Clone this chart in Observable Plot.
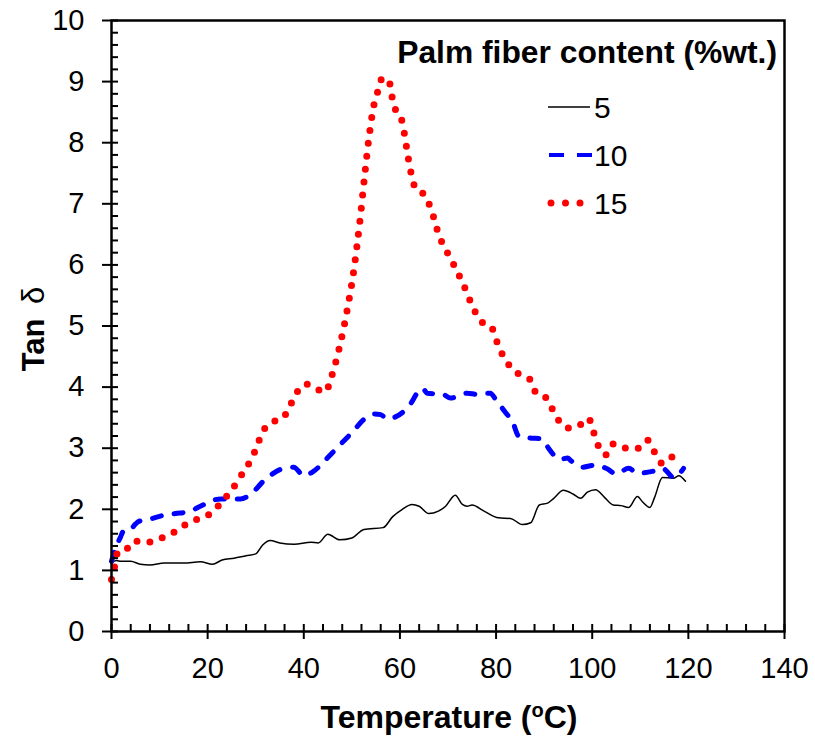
<!DOCTYPE html>
<html>
<head>
<meta charset="utf-8">
<script src="https://cdn.jsdelivr.net/npm/d3@7"></script>
<script src="https://cdn.jsdelivr.net/npm/@observablehq/plot@0.6"></script>
<style>
  html, body { margin: 0; padding: 0; background: #fff; }
</style>
</head>
<body>
<div id="chart"></div>
<script>
// ---- data ----
const seriesNames = ["5", "10", "15"];
const legendTitle = "Palm fiber content (%wt.)";
const xTitle = "Temperature (";
const yTitle = "Tan";
const xTicks = [0, 20, 40, 60, 80, 100, 120, 140];
const yTicks = [0, 1, 2, 3, 4, 5, 6, 7, 8, 9, 10];

const temp5 = [0, 1, 2, 4, 6, 8, 11, 15, 18.5, 21, 23, 25.5, 28, 30, 31.5, 33, 35, 38, 41.5, 43, 45, 47.5, 50, 52.5, 56.5, 58.5, 60.5, 62.5, 64, 66, 68, 69.5, 71.5, 73, 74, 75, 77.5, 80.5, 83, 85.5, 87.2, 89, 90.7, 92, 94, 96, 97.6, 99, 100.7, 102.5, 104.4, 106, 107.6, 109.4, 110.5, 112, 113, 114.6, 117, 118, 119.4];
const tan5  = [1.12, 1.16, 1.15, 1.15, 1.1, 1.09, 1.12, 1.12, 1.14, 1.1, 1.17, 1.2, 1.24, 1.27, 1.42, 1.49, 1.45, 1.43, 1.46, 1.45, 1.59, 1.5, 1.53, 1.67, 1.7, 1.88, 2.0, 2.08, 2.05, 1.93, 1.97, 2.05, 2.23, 2.08, 2.05, 2.07, 1.97, 1.86, 1.85, 1.75, 1.78, 2.07, 2.1, 2.18, 2.31, 2.25, 2.18, 2.28, 2.32, 2.2, 2.07, 2.06, 2.03, 2.21, 2.12, 2.03, 2.2, 2.52, 2.51, 2.55, 2.46];

const temp10 = [0, 0.8, 1.9, 2.5, 3.5, 5, 5.6, 7.5, 10.8, 13.3, 16.4, 18.5, 22.7, 26.8, 28.9, 31.6, 35.8, 37.9, 40, 42, 44.9, 47.6, 49.7, 53.3, 54.5, 56, 57.4, 58.7, 61.6, 64.7, 65.7, 69, 70.5, 74, 76.1, 78.8, 79.9, 82, 83.4, 84.7, 86.7, 89.7, 90.9, 93.4, 94.9, 95.5, 98, 100.3, 103.2, 104.9, 107.6, 109.4, 112.5, 114.6, 117, 119];
const tan10  = [1.15, 1.35, 1.55, 1.64, 1.64, 1.76, 1.8, 1.83, 1.9, 1.93, 1.97, 2.05, 2.17, 2.17, 2.24, 2.46, 2.67, 2.69, 2.55, 2.62, 2.84, 3.06, 3.23, 3.52, 3.56, 3.55, 3.48, 3.5, 3.66, 3.98, 3.9, 3.88, 3.82, 3.9, 3.88, 3.9, 3.8, 3.58, 3.44, 3.2, 3.17, 3.15, 3.0, 2.82, 2.84, 2.8, 2.69, 2.72, 2.66, 2.58, 2.67, 2.59, 2.62, 2.67, 2.52, 2.67];

const temp15 = [0, 0.7, 1.3, 2.9, 4.6, 7.5, 10, 12.7, 15.2, 17.9, 20.4, 22.5, 24.3, 26, 27.5, 29.1, 30.2, 31.2, 32.9, 35.6, 37, 38.3, 40.4, 42.4, 44.5, 45.6, 47.2, 49.0, 50.4, 51.8, 52.7, 53.7, 54.6, 55.4, 56.3, 57.7, 58.2, 58.9, 60.3, 60.9, 61.8, 63.1, 65.2, 66.4, 68.1, 70.7, 73.2, 75.4, 76.8, 79, 80, 81.1, 82.5, 84.6, 87, 88.2, 90.1, 91.5, 92.8, 95, 97.4, 99.2, 100.3, 101.1, 102.8, 104.4, 107.1, 109.6, 111.5, 113, 114.6, 116.9, 119];
const tan15  = [0.85, 1.08, 1.3, 1.33, 1.48, 1.46, 1.52, 1.61, 1.74, 1.84, 1.92, 2.08, 2.25, 2.43, 2.62, 2.82, 3.02, 3.23, 3.41, 3.49, 3.67, 3.88, 4.05, 3.98, 3.92, 4.13, 4.58, 5.25, 5.91, 6.81, 7.49, 8.17, 8.62, 8.84, 9.05, 9.03, 8.81, 8.58, 8.39, 8.16, 7.72, 7.28, 7.13, 6.93, 6.49, 6.08, 5.68, 5.27, 5.08, 4.99, 4.78, 4.57, 4.38, 4.22, 4.13, 3.92, 3.85, 3.67, 3.48, 3.33, 3.38, 3.49, 3.26, 3.07, 2.89, 3.07, 3.0, 3.0, 3.13, 2.93, 2.75, 2.87, 2.92];

// ---- build tables ----
const rows = (ts, vs) => ts.map((t, i) => ({t, v: vs[i]}));
const d5 = rows(temp5, tan5), d10 = rows(temp10, tan10), d15 = rows(temp15, tan15);

const FONT = "'Liberation Sans', Arial, Helvetica, sans-serif";
const xMinor = d3.range(0, 141, 4);
const yMinor = d3.range(0, 51, 1).map(i => i / 5);

const styles = [
  {stroke: "black", strokeWidth: 1.5},
  {stroke: "#0000ff", strokeWidth: 5, strokeDasharray: "9,13", strokeLinecap: "round"},
  {stroke: "#ff0000", strokeWidth: 7, strokeDasharray: "0,13", strokeLinecap: "round"}
];

const chart = Plot.plot({
  width: 815, height: 743,
  marginLeft: 111, marginRight: 31, marginTop: 20, marginBottom: 112,
  x: {domain: [0, 140]},
  y: {domain: [0, 10]},
  style: {fontFamily: FONT, background: "white", color: "black"},
  marks: [
    Plot.line(d5,  {x: "t", y: "v", curve: "monotone-x", ...styles[0]}),
    Plot.line(d10, {x: "t", y: "v", curve: "monotone-x", ...styles[1]}),
    Plot.line(d15, {x: "t", y: "v", curve: "monotone-x", ...styles[2]}),
    Plot.axisX(xMinor, {tickSize: -7, text: null, label: null, strokeWidth: 2}),
    Plot.axisY(yMinor, {tickSize: -7, text: null, label: null, strokeWidth: 2}),
    Plot.axisX(xTicks, {tickSize: 8, tickPadding: 18, fontSize: 29, label: null, strokeWidth: 2, tickFormat: d => String(d)}),
    Plot.axisY(yTicks, {tickSize: 9, tickPadding: 18, fontSize: 29, label: null, strokeWidth: 2, tickFormat: d => String(d)}),
    Plot.frame({stroke: "black", strokeWidth: 2.5})
  ]
});
document.getElementById("chart").appendChild(chart);

// ---- titles and legend ----
const svg = d3.select(chart);
const g = svg.append("g").attr("font-family", FONT).attr("fill", "black");

// x title with superscript o
const xt = g.append("text").attr("x", 449).attr("y", 728).attr("text-anchor", "middle")
  .attr("font-size", 32).attr("font-weight", "bold");
xt.append("tspan").text(xTitle);
xt.append("tspan").attr("font-size", 20).attr("dy", -11).text("o");
xt.append("tspan").attr("dy", 11).text("C)");

// y title
const yt = g.append("text").attr("transform", "translate(44,329) rotate(-90)")
  .attr("text-anchor", "middle").attr("font-size", 31);
yt.append("tspan").attr("font-weight", "bold").text(yTitle + " ");
yt.append("tspan").attr("dx", 6).attr("font-weight", "normal").text("δ");

// legend
g.append("text").attr("x", 777).attr("y", 63).attr("text-anchor", "end")
  .attr("font-size", 31.8).attr("font-weight", "bold").text(legendTitle);

const legY = [107, 155, 203];
const legLines = [
  {x1: 548, x2: 590, stroke: "black", w: 1.5, dash: null, cap: "butt"},
  {x1: 549, x2: 592, stroke: "#0000ff", w: 4, dash: "15,13", cap: "butt"},
  {x1: 551, x2: 581, stroke: "#ff0000", w: 7, dash: "0,14.5", cap: "round"}
];
seriesNames.forEach((name, i) => {
  const L = legLines[i];
  const ln = g.append("line").attr("x1", L.x1).attr("x2", L.x2)
    .attr("y1", legY[i]).attr("y2", legY[i])
    .attr("stroke", L.stroke).attr("stroke-width", L.w).attr("stroke-linecap", L.cap);
  if (L.dash) ln.attr("stroke-dasharray", L.dash);
  g.append("text").attr("x", 594).attr("y", legY[i] + 11).attr("text-anchor", "start")
    .attr("font-size", 30).text(name);
});
</script>
</body>
</html>
